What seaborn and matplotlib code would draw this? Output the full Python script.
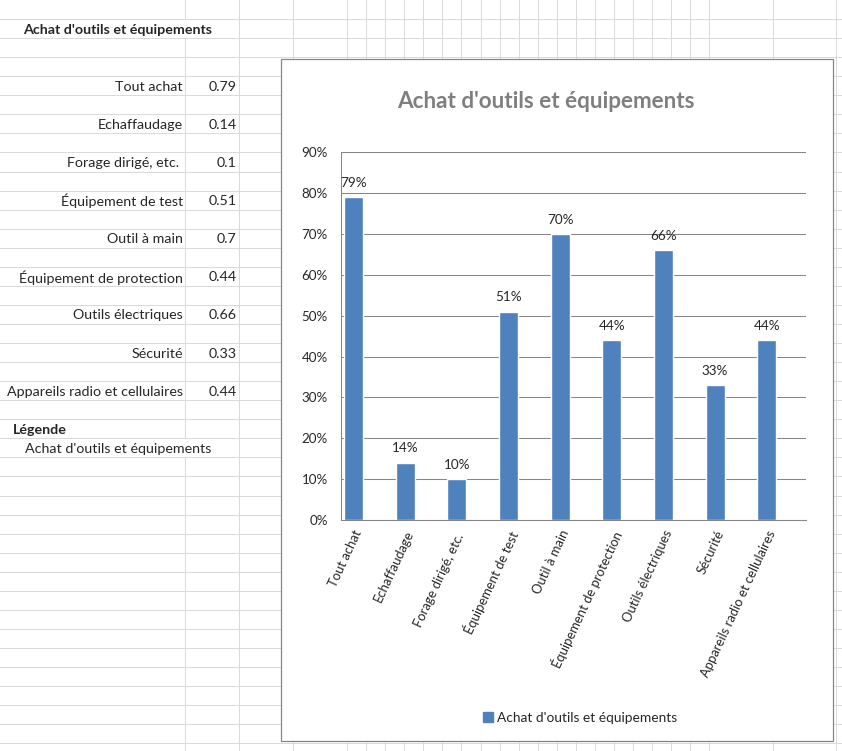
import matplotlib
matplotlib.use("Agg")
import matplotlib.pyplot as plt
from matplotlib.patches import Rectangle, Patch
import seaborn as sns
import pandas as pd

# données du tableau
titre = "Achat d'outils et équipements"
categories = ["Tout achat", "Echaffaudage", "Forage dirigé, etc. ", "Équipement de test",
              "Outil à main", "Équipement de protection", "Outils électriques", "Sécurité",
              "Appareils radio et cellulaires"]
valeurs = [0.79, 0.14, 0.1, 0.51, 0.7, 0.44, 0.66, 0.33, 0.44]
graduations = [0.0, 0.1, 0.2, 0.3, 0.4, 0.5, 0.6, 0.7, 0.8, 0.9]
etiquettes_y = ["0%", "10%", "20%", "30%", "40%", "50%", "60%", "70%", "80%", "90%"]

sns.set_style("white")
plt.rcParams['font.family'] = ['Lato', 'DejaVu Sans']

W, H = 842, 751
fig = plt.figure(figsize=(W / 100, H / 100), dpi=100)

# --- feuille de calcul en fond ---
bg = fig.add_axes([0, 0, 1, 1])
bg.set_xlim(0, W)
bg.set_ylim(H, 0)
bg.axis('off')
bg.set_zorder(0)

row_h = 19.06
grille = '#dadada'
for k in range(1, 40):
    bg.plot([0, W], [row_h * k, row_h * k], color=grille, lw=0.72)

cols = [185.3, 239.3, 293.3] + [347.3 + 19.03 * i for i in range(20)] + [772.7, 836]
for i, x in enumerate(cols):
    if i == 0:
        # lignes masquées par le texte qui déborde (lignes 2 et 24)
        segs = [(0, row_h), (2 * row_h, 23 * row_h), (24 * row_h, H)]
    else:
        segs = [(0, H)]
    for a, b in segs:
        bg.plot([x, x], [a, b], color=grille, lw=0.72)

def centre(r):
    return row_h * (r - 0.5) + 1

taille = 10.3
bg.text(23, centre(2), titre, fontsize=taille, fontweight='bold', va='center')
for i, (c, v) in enumerate(zip(categories, valeurs)):
    r = 5 + 2 * i
    bg.text(183, centre(r), c, fontsize=taille, ha='right', va='center')
    bg.text(236.5, centre(r), f"{v:g}", fontsize=taille, ha='right', va='center')
bg.text(13, centre(23), "Légende", fontsize=taille, fontweight='bold', va='center')
bg.text(25, centre(24), titre, fontsize=taille, va='center')

# cadre du graphique
bg.add_patch(Rectangle((280.5, 58.5), 552, 682.5, facecolor='white',
                       edgecolor='#868686', lw=0.9, zorder=5))
bg.text(546, 102, titre, fontsize=16.2, fontweight='bold', color='#7f7f7f',
        ha='center', va='center', zorder=6)

# --- graphique ---
left, right, top, bottom = 340.5, 805.5, 152.3, 520
ax = fig.add_axes([left / W, 1 - bottom / H, (right - left) / W, (bottom - top) / H])
ax.set_zorder(1)

df = pd.DataFrame({"categorie": categories, "valeur": valeurs})
ordre = []
for i, c in enumerate(categories):
    ordre += [c, f"vide{i}"]

sns.barplot(data=df, x="categorie", y="valeur", order=ordre, color="#4f81bd",
            saturation=1, width=0.73, errorbar=None, ax=ax)

ax.set_xlim(-0.5, 17.5)
ax.set_ylim(0, 0.9)
ax.set_xlabel("")
ax.set_ylabel("")

for cont in ax.containers:
    ax.bar_label(cont, labels=[f"{v:.0%}" for v in cont.datavalues],
                 padding=6, fontsize=9.7)

ax.set_xticks(list(range(0, 18, 2)))
ax.set_xticklabels(categories, rotation=65, ha='right', rotation_mode='anchor', fontsize=9.4)
ax.set_xticks([i - 0.5 for i in range(19)], minor=True)
ax.tick_params(axis='x', which='major', length=0, pad=6)
ax.tick_params(axis='x', which='minor', length=3, width=0.75, color='#868686', direction='out')

ax.set_yticks(graduations)
ax.set_yticklabels(etiquettes_y, fontsize=9.6)
ax.tick_params(axis='y', length=0, pad=9)

ax.yaxis.grid(True, color='#868686', lw=0.75)
ax.set_axisbelow(True)
for s in ['top', 'right']:
    ax.spines[s].set_visible(False)
for s in ['left', 'bottom']:
    ax.spines[s].set_color('#868686')
    ax.spines[s].set_linewidth(0.75)

fig.legend(handles=[Patch(color='#4f81bd')], labels=[titre], loc='center',
           bbox_to_anchor=(580 / W, 1 - 718 / H), frameon=False, fontsize=9.9,
           handlelength=0.7, handleheight=0.7, handletextpad=0.3)

fig.savefig("out.png", dpi=100)
